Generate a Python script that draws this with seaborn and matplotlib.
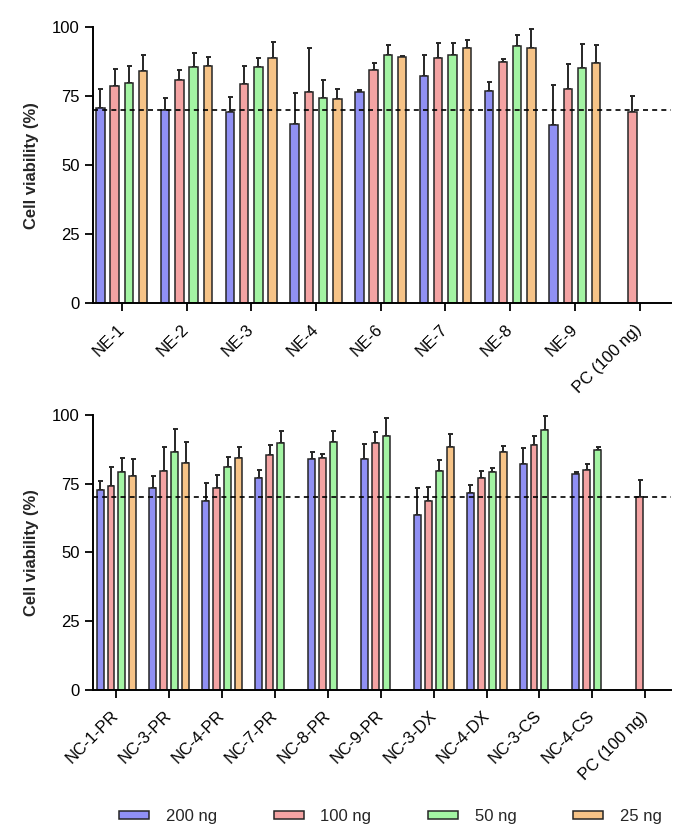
import numpy as np
import pandas as pd
import matplotlib
matplotlib.use("Agg")
import matplotlib.pyplot as plt
from matplotlib.patches import Patch
import seaborn as sns

nan = np.nan

# ---------------- data ----------------
doses = ["200 ng", "100 ng", "50 ng", "25 ng"]

ne_cats = ["NE-1", "NE-2", "NE-3", "NE-4", "NE-6", "NE-7", "NE-8", "NE-9", "PC (100 ng)"]
ne_200 = [70.8, 70.2, 69.2, 65.0, 76.4, 82.2, 76.8, 64.7, nan]
ne_200_sd = [7.0, 4.2, 5.4, 11.3, 0.7, 7.8, 3.3, 14.3, nan]
ne_100 = [78.6, 81.0, 79.5, 76.6, 84.7, 88.8, 87.4, 77.5, 69.4]
ne_100_sd = [6.4, 3.4, 6.5, 15.8, 2.4, 5.6, 1.2, 9.3, 5.7]
ne_50 = [79.8, 85.7, 85.6, 74.3, 90.1, 89.9, 93.1, 85.3, nan]
ne_50_sd = [6.3, 5.0, 3.4, 6.5, 3.4, 4.3, 4.1, 8.8, nan]
ne_25 = [84.1, 86.1, 88.8, 73.9, 89.4, 92.4, 92.6, 87.1, nan]
ne_25_sd = [6.0, 3.3, 5.8, 3.6, 0.3, 3.0, 6.9, 6.6, nan]

nc_cats = ["NC-1-PR", "NC-3-PR", "NC-4-PR", "NC-7-PR", "NC-8-PR", "NC-9-PR",
           "NC-3-DX", "NC-4-DX", "NC-3-CS", "NC-4-CS", "PC (100 ng)"]
nc_200 = [72.8, 73.3, 68.6, 77.0, 83.9, 83.9, 63.6, 71.8, 82.2, 78.4, nan]
nc_200_sd = [3.3, 4.6, 6.7, 3.0, 2.6, 5.7, 9.9, 2.9, 5.7, 1.0, nan]
nc_100 = [74.1, 79.6, 73.3, 85.5, 84.4, 89.7, 68.6, 77.0, 89.2, 80.1, 70.1]
nc_100_sd = [7.1, 8.8, 5.0, 3.7, 1.5, 4.1, 5.2, 2.8, 3.3, 2.2, 6.1]
nc_50 = [79.4, 86.7, 81.2, 89.7, 90.3, 92.2, 79.6, 79.4, 94.7, 87.4, nan]
nc_50_sd = [4.8, 8.2, 3.6, 4.6, 4.0, 6.7, 4.0, 1.2, 5.1, 1.1, nan]
nc_25 = [77.7, 82.4, 84.4, nan, nan, nan, 88.5, 86.4, nan, nan, nan]
nc_25_sd = [6.3, 7.8, 4.1, nan, nan, nan, 4.7, 2.4, nan, nan, nan]

threshold = 70
yticks = [0, 25, 50, 75, 100]
colors = ["#9090f4", "#f4a3a3", "#a3f4a3", "#f6c387"]
edge = "#262626"

# ---------------- style ----------------
sns.set_theme(style="ticks")
plt.rcParams["font.family"] = ["Liberation Sans", "DejaVu Sans"]
plt.rcParams["axes.linewidth"] = 1.4

fig = plt.figure(figsize=(6.85, 8.34), dpi=100)
ax1 = fig.add_axes([0.1353, 0.6363, 0.979 - 0.1353, 0.9673 - 0.6363])
ax2 = fig.add_axes([0.1353, 0.1727, 0.979 - 0.1353, 0.5024 - 0.1727])


def long_df(cats, vals, sds):
    rows = []
    for d, v, s in zip(doses, vals, sds):
        for c, vv, ss in zip(cats, v, s):
            rows.append({"cat": c, "dose": d, "val": vv, "sd": ss})
    return pd.DataFrame(rows)


def panel(ax, cats, vals, sds, width, gap):
    df = long_df(cats, vals, sds)
    sns.barplot(data=df.dropna(subset=["val"]), x="cat", y="val", hue="dose",
                order=cats, hue_order=doses, palette=colors, width=width, gap=gap,
                errorbar=None, edgecolor=edge, linewidth=1.1, legend=False,
                saturation=1, ax=ax, zorder=2)
    lookup = {(r.cat, r.dose): r.sd for r in df.itertuples()}
    for d, cont in zip(doses, ax.containers):
        for p in cont.patches:
            h = p.get_height()
            if not np.isfinite(h):
                continue
            xc = p.get_x() + p.get_width() / 2
            c = cats[int(round(xc))]
            s = lookup.get((c, d), nan)
            if np.isfinite(s):
                ax.errorbar(xc, h, yerr=[[0], [s]], fmt="none", ecolor=edge,
                            elinewidth=1.4, capsize=1.8, capthick=1.4, zorder=1)
    ax.axhline(threshold, color="black", lw=1.2, ls=(0, (3, 2.5)), zorder=3)
    ax.set_ylim(0, 100)
    ax.set_yticks(yticks)
    ax.set_xlim(-0.45, len(cats) - 0.52)
    ax.set_xlabel("")
    ax.set_ylabel("Cell viability (%)", fontsize=12, fontweight="bold", labelpad=9)
    ax.set_xticks(range(len(cats)))
    ax.set_xticklabels(cats, rotation=45, ha="right", va="center",
                       rotation_mode="anchor")
    ax.tick_params(axis="both", labelsize=12, length=6, width=1.3, color="black",
                   labelcolor="black")
    ax.tick_params(axis="x", pad=11)
    sns.despine(ax=ax)
    for sp in ("left", "bottom"):
        ax.spines[sp].set_color("black")


panel(ax1, ne_cats, [ne_200, ne_100, ne_50, ne_25],
      [ne_200_sd, ne_100_sd, ne_50_sd, ne_25_sd], width=0.88, gap=0.41)
panel(ax2, nc_cats, [nc_200, nc_100, nc_50, nc_25],
      [nc_200_sd, nc_100_sd, nc_50_sd, nc_25_sd], width=0.83, gap=0.365)

handles = [Patch(facecolor=c, edgecolor=edge, linewidth=1.1) for c in colors]
fig.legend(handles, doses, loc="center", bbox_to_anchor=(0.57, 0.0207), ncol=4,
           frameon=False, fontsize=12, handlelength=1.8, handleheight=0.4,
           handletextpad=1.0, columnspacing=3.4)

fig.savefig("out.png", dpi=100)
